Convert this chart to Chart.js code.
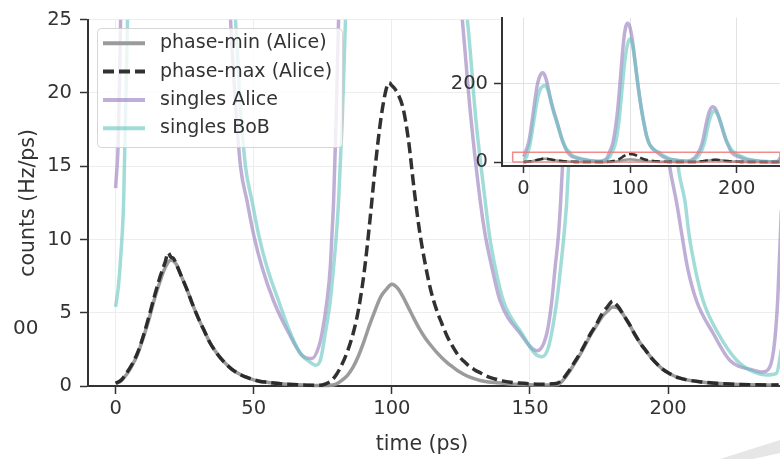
<!DOCTYPE html>
<html>
<head>
<meta charset="utf-8">
<script src="https://cdn.jsdelivr.net/npm/chart.js@4.4.1/dist/chart.umd.min.js"></script>
<style>
  html, body { margin:0; padding:0; background:#fff; }
  #wrap { position:relative; width:780px; height:459px; overflow:hidden; background:#fff; }
  #main { position:absolute; left:0; top:0; }
  #inset { position:absolute; left:440px; top:0; }
  #frag { position:absolute; left:13px; top:314px; font:20px "DejaVu Sans"; color:#333; line-height:26px; }
  #swoosh { position:absolute; left:700px; top:420px; width:80px; height:39px; background:#e6e6e6;
            clip-path: polygon(20px 39px, 80px 20px, 80px 33px, 53px 39px); }
</style>
</head>
<body>
<div id="wrap">
  <canvas id="main" width="780" height="459"></canvas>
  <canvas id="inset" width="340" height="205"></canvas>
  <div id="frag">00</div>
  <div id="swoosh"></div>
</div>
<script>
// ---------------- data ----------------
const MAIN_X_MIN = -10, MAIN_X_MAX = 240.5, MAIN_Y_MIN = 0, MAIN_Y_MAX = 25;
const MAIN_X_TICKS = [0, 50, 100, 150, 200];
const MAIN_Y_TICKS = [0, 5, 10, 15, 20, 25];
const INSET_X_MIN = -20, INSET_X_MAX = 240.6, INSET_Y_MIN = -10, INSET_Y_MAX = 368;
const INSET_X_TICKS = [0, 100, 200];
const INSET_Y_TICKS = [0, 200];

const SERIES_NAMES = ['phase-min (Alice)', 'phase-max (Alice)', 'singles Alice', 'singles BoB'];

// phase-min (Alice)
const T_MIN = [0,2,4,6,8,10,12,14,16,18,
  20,22,24,26,28,30,32,34,36,38,
  40,42,44,46,48,50,52,55,58,62,
  66,70,76,78,80,82,84,86,88,90,
  92,94,96,98,100,102,104,106,108,110,
  112,114,116,118,120,122,124,126,128,130,
  132,135,138,142,146,150,155,160,162,164,
  166,168,170,172,174,176,178,180,182,184,
  186,188,190,192,194,196,198,200,202,204,
  206,208,212,216,220,226,232,240];
const V_MIN = [0.15,0.35,0.8,1.4,2.2,3.3,4.5,5.9,7.1,8.1,
  8.6,8.3,7.4,6.5,5.5,4.6,3.8,3.0,2.4,1.9,
  1.5,1.15,0.9,0.7,0.55,0.42,0.33,0.25,0.18,0.12,
  0.08,0.05,0.03,0.05,0.15,0.4,0.75,1.3,2.1,3.1,
  4.2,5.2,6.1,6.6,6.95,6.7,6.1,5.35,4.6,3.9,
  3.3,2.8,2.35,1.95,1.6,1.3,1.02,0.8,0.62,0.49,
  0.38,0.28,0.22,0.15,0.1,0.08,0.06,0.1,0.4,0.9,
  1.5,2.1,2.8,3.5,4.1,4.7,5.1,5.4,5.3,4.8,
  4.2,3.5,2.9,2.4,1.9,1.5,1.15,0.9,0.7,0.55,
  0.45,0.38,0.28,0.2,0.15,0.1,0.08,0.06];

// phase-max (Alice)
const T_MAX = [0,2,4,6,8,10,12,14,16,18,
  19,20,21,22,24,26,28,30,32,34,
  36,38,40,42,44,46,48,50,52,55,
  58,62,66,70,74,76,78,80,82,84,
  86,88,90,92,94,96,98,99,100,101,
  102,104,106,108,110,112,114,116,118,120,
  122,124,126,128,130,132,134,136,138,140,
  143,146,150,154,158,160,162,164,166,168,
  170,172,174,176,178,180,181,182,184,186,
  188,190,192,194,196,198,200,202,204,206,
  208,212,216,220,226,232,240];
const V_MAX = [0.2,0.4,0.9,1.5,2.3,3.4,4.7,6.1,7.4,8.5,
  9.1,8.8,8.7,8.3,7.4,6.5,5.5,4.6,3.8,3.0,
  2.4,1.9,1.5,1.15,0.9,0.7,0.55,0.42,0.33,0.25,
  0.18,0.12,0.08,0.05,0.05,0.15,0.35,0.8,1.5,2.4,
  3.6,5.3,7.8,11.2,15.0,18.2,20.3,20.7,20.5,20.3,
  20.0,19.0,16.8,13.5,10.6,8.4,6.6,5.3,4.3,3.4,
  2.7,2.1,1.7,1.35,1.1,0.9,0.7,0.55,0.45,0.35,
  0.25,0.2,0.15,0.12,0.15,0.2,0.5,1.0,1.6,2.2,
  2.9,3.6,4.2,4.9,5.4,5.8,5.6,5.4,4.8,4.2,
  3.5,2.9,2.4,1.9,1.5,1.15,0.9,0.7,0.55,0.45,
  0.38,0.28,0.2,0.15,0.1,0.08,0.06];

// singles Alice
const T_A = [0,1,1.8,3,5,7,9,11,13,15,
  17,18.4,20,22,24,26,28.3,31,33,36,
  38,40,41.6,43.5,45.2,47.6,50,53,57.2,62.7,
  67.5,71.1,73.5,74.7,76.5,77.7,78.3,78.9,79.8,80.7,
  82.5,84,85.5,87,88.5,90,91.5,93,94.5,96,
  97.8,99.5,101,103,105,107,109,111,113,115.6,
  118,120,122.5,125.5,128.5,132,133.8,136.2,139.2,146.4,
  152.5,156.1,157.9,159.1,160.3,161.1,162.6,164.1,166,168,
  170,172,174,176,177.7,179.5,181,183,185,187,
  190,192.5,195.2,197,199,201,203,205,207,210.3,
  216.3,222.3,230.8,234,236.8,238.6,239.7,241];
const V_A = [13.5,17,25,33,50,82,120,160,195,216,
  226,228,222,205,180,155,132,108,89,60,
  45,33,25,19,15,12.6,10.3,8.1,5.8,3.6,
  2.1,1.87,2.66,3.6,5.8,8.1,10.3,12.6,18,25,
  36,50,72,100,135,180,230,280,320,345,
  354,347,330,295,250,205,165,130,100,66,
  47,38,31,25,18.5,12.6,10.3,8.1,5.8,3.6,
  2.4,3.6,5.8,8.1,10.3,12.6,18,25,35,52,
  78,105,126,138,141,138,131,117,100,82,
  56,40,25,20.5,17,14.5,12.6,10.3,8.1,5.8,
  3.6,1.76,1.08,0.95,1.3,3.1,6,12];

// singles BoB
const T_B = [0,1,1.8,2.9,4.3,6,8,10,12,14,
  16,18,20.5,22,24,26,28.3,31,33,36,
  38,40,41.8,43.4,45,47,49.4,51.8,54.8,59,
  63.3,66.9,71.1,72.3,74.1,75.9,77.7,78.9,79.9,80.7,
  82,83.2,85,86.5,88,89.5,91,92.5,94,95.5,
  97,98.5,100,101.5,103,105,107,109,111,113,
  115.6,118,120,122.5,125,127.3,130.5,133.8,135.3,137.4,
  140.4,147,151.8,154.3,156.7,159.7,161.1,162.3,163.3,164.8,
  166.3,168,170,172,174,176,178,179.4,181,183,
  185,187,190,193,195.5,197.8,200,202,204,206.1,
  207.6,209.7,212.7,218.1,224.8,230.8,235.6,239.2,241];
const V_B = [5.4,6.8,8.7,12.6,25,42,72,108,142,170,
  186,193,195,190,175,153,128,104,86,60,
  46,35,29,25,19.5,15,12.6,10.3,8.1,5.8,
  3.6,2.2,1.54,1.42,1.76,3.6,5.8,8.1,10.3,12.6,
  18,25,36,50,72,100,140,185,228,265,
  292,308,314,308,288,250,206,166,130,100,
  66,47,39,32,27.5,25,18,12.6,10.3,8.1,
  5.8,3.6,2.2,2.0,2.66,5.8,8.1,10.3,12.6,18,
  25,35,52,78,102,120,129,131,127,116,
  100,82,57,40,30,25,21,17.5,14.5,12.6,
  10.3,8.1,5.8,3.6,1.76,0.97,0.75,0.86,2.5];

// ---------------- helpers ----------------
function pts(t, v) { return t.map((x, i) => ({ x: x, y: v[i] })); }

const FONT = 'DejaVu Sans';
const TXT = '#333333';
const COLORS = {
  min: 'rgba(150,150,150,0.95)',
  max: 'rgba(38,38,38,0.95)',
  a: 'rgba(148,120,186,0.6)',
  b: 'rgba(98,196,190,0.6)'
};

function makeDatasets(scale, singlesWidth) {
  return [
    { label: SERIES_NAMES[0], data: pts(T_MIN, V_MIN), borderColor: COLORS.min, borderWidth: 3.5 * scale, order: 1 },
    { label: SERIES_NAMES[1], data: pts(T_MAX, V_MAX), borderColor: COLORS.max, borderWidth: 3.5 * scale, borderDash: [11 * scale, 5 * scale], order: 0 },
    { label: SERIES_NAMES[2], data: pts(T_A, V_A), borderColor: COLORS.a, borderWidth: singlesWidth, order: 3 },
    { label: SERIES_NAMES[3], data: pts(T_B, V_B), borderColor: COLORS.b, borderWidth: singlesWidth, order: 2 }
  ].map(d => Object.assign(d, {
    pointRadius: 0, fill: false, cubicInterpolationMode: 'monotone',
    clip: { left: 5, top: 0, right: 0, bottom: 5 }
  }));
}

function fixedTicks(list) {
  return function (s) { s.ticks = list.map(v => ({ value: v })); };
}

// legend drawn inside the plot
const boxLegend = {
  id: 'boxLegend',
  afterDatasetsDraw(chart) {
    const ctx = chart.ctx;
    const bx = 97, by = 28, bw = 245, bh = 119;
    ctx.save();
    ctx.beginPath();
    ctx.roundRect(bx + 0.5, by + 0.5, bw, bh, 4);
    ctx.fillStyle = 'rgba(255,255,255,0.8)';
    ctx.fill();
    ctx.strokeStyle = 'rgba(204,204,204,0.8)';
    ctx.lineWidth = 1;
    ctx.stroke();
    const rows = chart.data.datasets;
    rows.forEach((ds, i) => {
      const cy = 43.3 + i * 28.3;
      ctx.beginPath();
      ctx.setLineDash(ds.borderDash || []);
      ctx.strokeStyle = ds.borderColor;
      ctx.lineWidth = 4;
      ctx.lineCap = 'butt';
      ctx.moveTo(103, cy);
      ctx.lineTo(145, cy);
      ctx.stroke();
      ctx.setLineDash([]);
      ctx.fillStyle = TXT;
      ctx.font = '19px "' + FONT + '"';
      ctx.textAlign = 'left';
      ctx.textBaseline = 'middle';
      ctx.fillText(ds.label, 160, cy);
    });
    ctx.restore();
  }
};

const xTitle = {
  id: 'xTitle',
  afterDraw(chart) {
    const ctx = chart.ctx;
    ctx.save();
    ctx.fillStyle = TXT;
    ctx.font = '20.5px "' + FONT + '"';
    ctx.textAlign = 'center';
    ctx.textBaseline = 'middle';
    ctx.fillText('time (ps)', 422, 445);
    ctx.restore();
  }
};

const whiteArea = {
  id: 'whiteArea',
  beforeDraw(chart) {
    const a = chart.chartArea, ctx = chart.ctx;
    ctx.save();
    ctx.fillStyle = '#ffffff';
    ctx.fillRect(a.left, a.top, a.right - a.left, a.bottom - a.top);
    ctx.restore();
  }
};

// ---------------- main chart ----------------
new Chart(document.getElementById('main'), {
  type: 'line',
  data: { datasets: makeDatasets(1, 3.5) },
  options: {
    responsive: false, animation: false, devicePixelRatio: 1,
    layout: { padding: { top: 17, left: 0, right: 0, bottom: 0 } },
    plugins: { legend: { display: false }, tooltip: { enabled: false } },
    scales: {
      x: {
        type: 'linear', min: MAIN_X_MIN, max: MAIN_X_MAX,
        afterBuildTicks: fixedTicks(MAIN_X_TICKS),
        afterFit: s => { s.height = 73; },
        grid: { color: '#ededed', lineWidth: 1, tickColor: '#333', tickLength: 8, tickWidth: 1.5 },
        border: { color: '#333', width: 2 },
        ticks: { font: { family: FONT, size: 19.5 }, color: TXT, padding: 3, maxRotation: 0, autoSkip: false }
      },
      y: {
        type: 'linear', min: MAIN_Y_MIN, max: MAIN_Y_MAX,
        afterBuildTicks: fixedTicks(MAIN_Y_TICKS),
        afterFit: s => { s.width = 88; },
        grid: { color: '#ededed', lineWidth: 1, tickColor: '#333', tickLength: 8, tickWidth: 1.5 },
        border: { color: '#333', width: 2 },
        ticks: { font: { family: FONT, size: 19.5 }, color: TXT, padding: 8 },
        title: { display: true, text: 'counts (Hz/ps)', color: TXT, font: { family: FONT, size: 20.5 }, padding: { top: 16, bottom: 0 } }
      }
    }
  },
  plugins: [boxLegend, xTitle]
});

// ---------------- inset chart ----------------
const insetSets = makeDatasets(0.75, 3.5);
insetSets.push({
  label: 'zoom', order: -1,
  data: [
    { x: MAIN_X_MIN, y: MAIN_Y_MIN }, { x: MAIN_X_MIN, y: MAIN_Y_MAX },
    { x: MAIN_X_MAX, y: MAIN_Y_MAX }, { x: MAIN_X_MAX, y: MAIN_Y_MIN },
    { x: MAIN_X_MIN, y: MAIN_Y_MIN }
  ],
  borderColor: 'rgba(240,120,120,0.85)', borderWidth: 1.5, pointRadius: 0, tension: 0,
  fill: false, clip: { left: 2, top: 2, right: 2, bottom: 2 }
});

new Chart(document.getElementById('inset'), {
  type: 'line',
  data: { datasets: insetSets },
  options: {
    responsive: false, animation: false, devicePixelRatio: 1,
    layout: { padding: { top: 17, left: 0, right: 0, bottom: 0 } },
    plugins: { legend: { display: false }, tooltip: { enabled: false } },
    scales: {
      x: {
        type: 'linear', min: INSET_X_MIN, max: INSET_X_MAX,
        afterBuildTicks: fixedTicks(INSET_X_TICKS),
        afterFit: s => { s.height = 39; },
        grid: { color: '#e2e2e2', lineWidth: 1, tickColor: '#333', tickLength: 7, tickWidth: 1.5 },
        border: { color: '#333', width: 2 },
        ticks: { font: { family: FONT, size: 19.5 }, color: TXT, padding: 4, maxRotation: 0, autoSkip: false }
      },
      y: {
        type: 'linear', min: INSET_Y_MIN, max: INSET_Y_MAX,
        afterBuildTicks: fixedTicks(INSET_Y_TICKS),
        afterFit: s => { s.width = 62; },
        grid: { color: '#e2e2e2', lineWidth: 1, tickColor: '#333', tickLength: 8, tickWidth: 1.5 },
        border: { color: '#333', width: 2 },
        ticks: { font: { family: FONT, size: 19.5 }, color: TXT, padding: 6 }
      }
    }
  },
  plugins: [whiteArea]
});
</script>
</body>
</html>
